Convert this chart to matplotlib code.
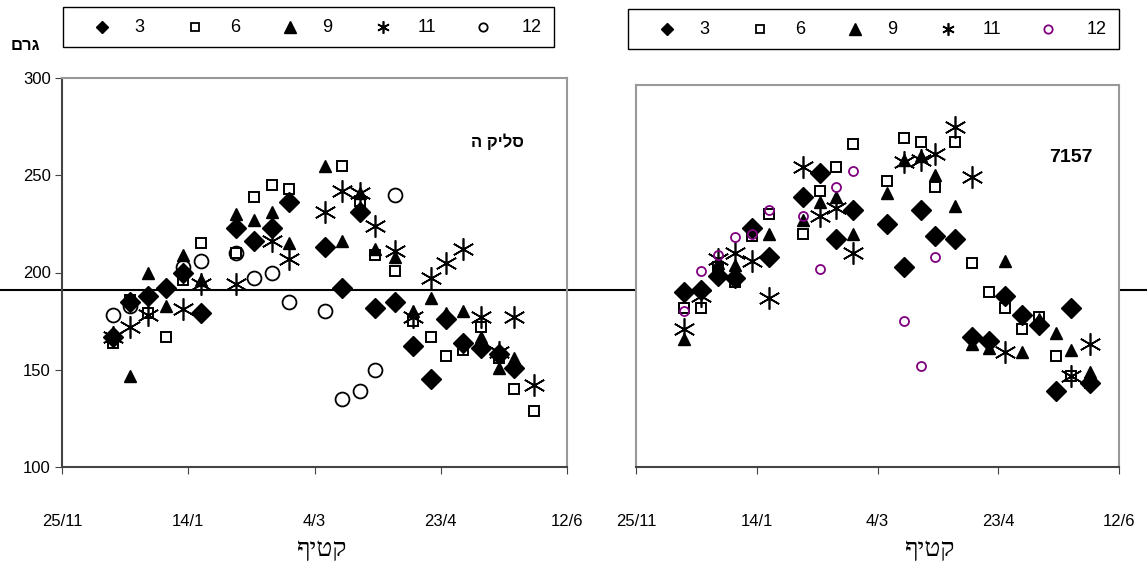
import matplotlib
matplotlib.use("Agg")
import matplotlib.pyplot as plt
from matplotlib.lines import Line2D
from matplotlib.patches import Rectangle

# days counted from 25/11
tick_days = [0, 50, 100, 150, 200]
tick_labels = ["25/11", "14/1", "4/3", "23/4", "12/6"]
series_names = ["3", "6", "9", "11", "12"]

# --- left panel: סליקה
sel_d3 = [20, 27, 34, 41, 48, 55, 69, 76, 83, 90, 104, 111, 118, 124, 132, 139, 146, 152, 159, 166, 173, 179]
sel_g3 = [167, 185, 188, 192, 200, 179, 223, 216, 223, 236, 213, 192, 231, 182, 185, 162, 145, 176, 164, 161, 158, 151]
sel_d6 = [20, 27, 34, 41, 48, 55, 69, 76, 83, 90, 111, 118, 124, 132, 139, 146, 152, 159, 166, 173, 179, 187]
sel_g6 = [164, 186, 179, 167, 196, 215, 210, 239, 245, 243, 255, 237, 209, 201, 175, 167, 157, 160, 172, 156, 140, 129]
sel_d9 = [20, 27, 34, 41, 48, 55, 69, 76, 83, 90, 104, 111, 118, 124, 132, 139, 146, 152, 159, 166, 173, 179]
sel_g9 = [168, 147, 200, 183, 209, 196, 230, 227, 231, 215, 255, 216, 241, 212, 208, 180, 187, 179, 180, 167, 151, 156]
sel_d11 = [20, 27, 34, 48, 55, 69, 83, 90, 104, 111, 118, 124, 132, 139, 146, 152, 159, 166, 173, 179, 187]
sel_g11 = [167, 172, 178, 181, 194, 194, 216, 207, 231, 242, 241, 224, 211, 177, 197, 205, 212, 177, 159, 177, 142]
sel_d12 = [20, 27, 48, 55, 69, 76, 83, 90, 104, 111, 118, 124, 132]
sel_g12 = [178, 183, 203, 206, 210, 197, 200, 185, 180, 135, 139, 150, 240]

# --- right panel: 7157
r_d3 = [20, 27, 34, 41, 48, 55, 69, 76, 83, 90, 104, 111, 118, 124, 132, 139, 146, 153, 160, 167, 174, 180, 188]
r_g3 = [190, 191, 198, 197, 223, 208, 239, 251, 217, 232, 225, 203, 232, 219, 217, 167, 165, 188, 178, 173, 139, 182, 143]
r_d6 = [20, 27, 34, 41, 48, 55, 69, 76, 83, 90, 104, 111, 118, 124, 132, 139, 146, 153, 160, 167, 174, 180, 188]
r_g6 = [182, 182, 203, 195, 219, 230, 220, 242, 254, 266, 247, 269, 267, 244, 267, 205, 190, 182, 171, 177, 157, 147, 143]
r_d9 = [20, 34, 41, 55, 69, 76, 83, 90, 104, 111, 118, 124, 132, 139, 146, 153, 160, 167, 174, 180, 188]
r_g9 = [166, 205, 204, 220, 227, 236, 239, 220, 241, 258, 260, 250, 234, 163, 161, 206, 159, 176, 169, 160, 149]
r_d11 = [20, 27, 34, 41, 48, 55, 69, 76, 83, 90, 111, 118, 124, 132, 139, 153, 180, 188]
r_g11 = [171, 188, 207, 210, 206, 187, 254, 229, 233, 210, 257, 258, 261, 275, 249, 159, 147, 163]
r_d12 = [20, 27, 34, 41, 48, 55, 69, 76, 83, 90, 111, 118, 124]
r_g12 = [180, 201, 209, 218, 220, 232, 229, 202, 244, 252, 175, 152, 208]

ref_line = 191

# the renderer reorders Hebrew right-to-left, so these are typed to come out
# in the same visual order as the original sheet
title_left = "ה קילס"
unit_label = "םרג"
x_label = "ףיטק"

W, H = 1147, 568
plt.rcParams["font.family"] = ["Liberation Sans", "DejaVu Sans"]
fig = plt.figure(figsize=(W / 100, H / 100), dpi=100)


def fx(px):
    return px / W


def fy(py):
    return 1 - py / H


ast = (6, 2, 0)
purple = "#800080"

styles = {
    "3": dict(marker="D", ms=10, mfc="black", mec="black", mew=1),
    "6": dict(marker="s", ms=7, mfc="none", mec="black", mew=1.4),
    "9": dict(marker="^", ms=9, mfc="black", mec="black", mew=1),
    "11": dict(marker=ast, ms=16, mfc="none", mec="black", mew=1.2),
}


def setup_axes(ax, ytop, show_y):
    ax.set_xlim(0, 200)
    ax.set_ylim(100, ytop)
    ax.set_xticks(tick_days)
    ax.set_xticklabels(tick_labels)
    ax.tick_params(axis="x", direction="out", length=5, pad=29, labelsize=12, color="#444444")
    for s in ["top", "right"]:
        ax.spines[s].set_color("#999999")
        ax.spines[s].set_linewidth(1.5)
    ax.spines["bottom"].set_color("#444444")
    ax.spines["bottom"].set_linewidth(1.5)
    if show_y:
        ax.set_yticks([100, 150, 200, 250, 300])
        ax.tick_params(axis="y", direction="out", length=5, pad=3, labelsize=12, color="#444444")
        ax.spines["left"].set_color("#444444")
        ax.spines["left"].set_linewidth(1.5)
    else:
        ax.set_yticks([])
        ax.spines["left"].set_color("#999999")
        ax.spines["left"].set_linewidth(1.5)


def draw_series(ax, data, circle_style):
    for name, (d, g) in zip(series_names, data):
        st = styles.get(name, circle_style)
        ax.plot(d, g, linestyle="none", clip_on=False, **st)


# left panel
ax1 = fig.add_axes([fx(62), fy(467), fx(567 - 62), (467 - 78) / H])
setup_axes(ax1, 300, True)
draw_series(ax1, [(sel_d3, sel_g3), (sel_d6, sel_g6), (sel_d9, sel_g9),
                  (sel_d11, sel_g11), (sel_d12, sel_g12)],
            dict(marker="o", ms=10, mfc="none", mec="black", mew=1.3))
ax1.text(0.915, 0.835, title_left, transform=ax1.transAxes, ha="right", va="center",
         fontsize=12, fontweight="bold")
# reference line spans the whole figure
ax1.axhline(ref_line, xmin=-62 / 505, xmax=(W - 62) / 505, color="black", lw=1.5,
            clip_on=False, zorder=0)

# right panel
ax2 = fig.add_axes([fx(636), fy(467), fx(1119 - 636), (467 - 85) / H])
setup_axes(ax2, 100 + (467 - 85) / 1.945, False)
draw_series(ax2, [(r_d3, r_g3), (r_d6, r_g6), (r_d9, r_g9),
                  (r_d11, r_g11), (r_d12, r_g12)],
            dict(marker="o", ms=6.5, mfc="none", mec=purple, mew=1.3))
ax2.text(0.945, 0.81, "7157", transform=ax2.transAxes, ha="right", va="center",
         fontsize=14, fontweight="bold")

# y unit label
fig.text(fx(25), fy(45), unit_label, ha="center", va="center", fontsize=12, fontweight="bold")

# x labels
for cx in [322, 930]:
    fig.text(fx(cx), fy(550), x_label, ha="center", va="center", fontsize=19,
             family=["Liberation Serif", "DejaVu Serif", "DejaVu Sans"])


# legends drawn in figure coordinates
def draw_legend(left, top, bottom, circle_color):
    fig.add_artist(Rectangle((fx(left), fy(bottom)), fx(491), (bottom - top) / H,
                             transform=fig.transFigure, fill=False, ec="black", lw=1))
    ymid = fy((top + bottom) / 2)
    mk_off = [39, 132, 227, 320, 420]
    tx_off = [76, 172, 264, 364, 469]
    leg_styles = [
        dict(marker="D", ms=6.5, mfc="black", mec="black"),
        dict(marker="s", ms=6, mfc="none", mec="black", mew=1.3),
        dict(marker="^", ms=8, mfc="black", mec="black"),
        dict(marker=ast, ms=9, mfc="none", mec="black", mew=1.2),
        dict(marker="o", ms=6, mfc="none", mec=circle_color, mew=1.3),
    ]
    for name, mo, to, st in zip(series_names, mk_off, tx_off, leg_styles):
        fig.add_artist(Line2D([fx(left + mo)], [ymid], transform=fig.transFigure,
                              linestyle="none", **st))
        fig.text(fx(left + to), ymid, name, ha="center", va="center", fontsize=13)


draw_legend(63, 7, 47, "black")
draw_legend(628, 9, 49, purple)

fig.savefig("out.png", dpi=100)
